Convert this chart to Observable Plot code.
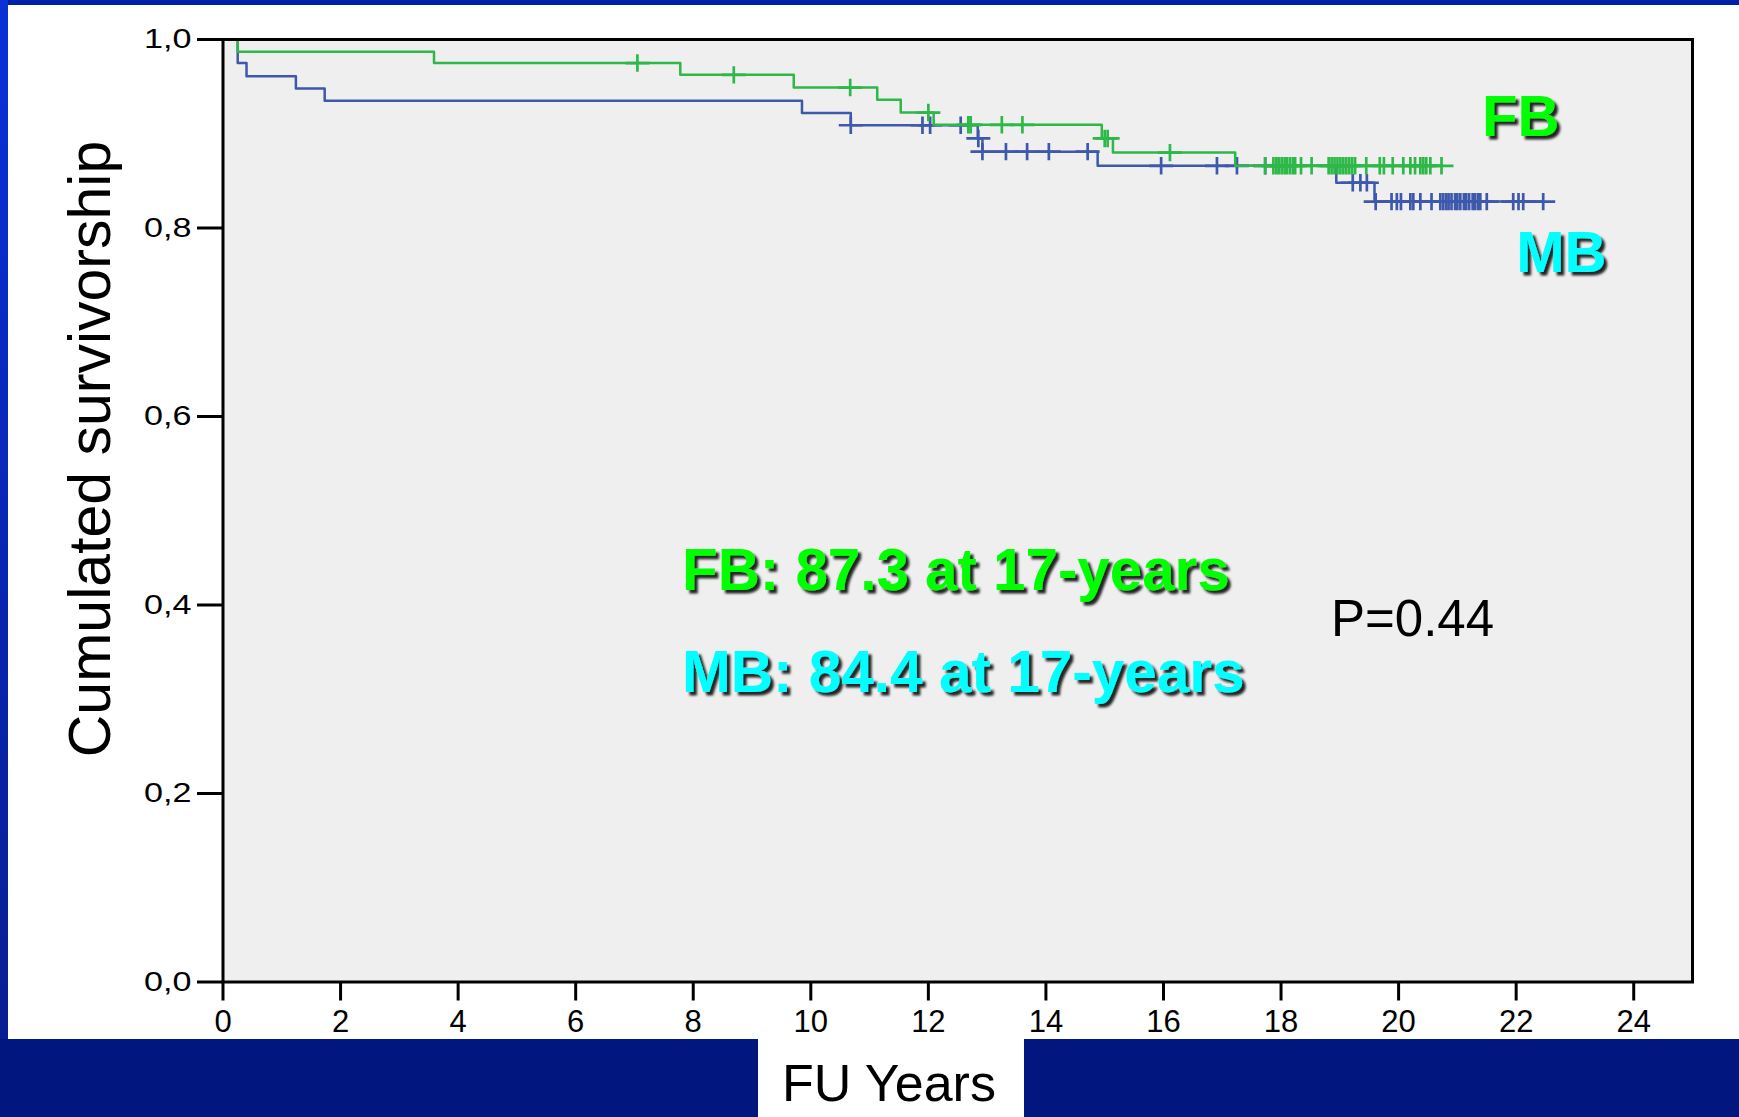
<!DOCTYPE html>
<html><head><meta charset="utf-8">
<script src="https://cdn.jsdelivr.net/npm/d3@7"></script>
<script src="https://cdn.jsdelivr.net/npm/@observablehq/plot@0.6"></script>
<style>
html,body{margin:0;padding:0;background:#fff;}
#page{position:relative;width:1739px;height:1117px;overflow:hidden;background:#fff;font-family:"Liberation Sans",Arial,sans-serif;}
.deco{position:absolute;}
#chart{position:absolute;left:0;top:0;}
</style></head><body>
<div id="page">
 <div class="deco" style="left:0;top:0;width:1739px;height:5px;background:#0020a8"></div>
 <div class="deco" style="left:0;top:0;width:8px;height:1117px;background:linear-gradient(#0a30d8,#081c8c)"></div>
 <div class="deco" style="left:0;top:1039px;width:1739px;height:78px;background:#021680"></div>
 <div class="deco" style="left:758px;top:1039px;width:266px;height:78px;background:#fff"></div>
 <div id="chart"></div>
</div>
<script>
// ---- Data ----
// MB group (blue): event times (years) and survival after each event
const mbEventTimes = [0.25, 0.40, 1.24, 1.73, 9.85, 10.68, 12.84, 12.92, 14.88, 18.94, 19.59];
const mbEventSurv  = [0.975, 0.961, 0.948, 0.935, 0.922, 0.909, 0.895, 0.881, 0.866, 0.848, 0.828];
// MB censored times
const mbCensorTimes = [10.68, 11.90, 12.03, 12.55, 12.85, 12.92, 13.32, 13.68, 14.05, 14.71,
  15.96, 16.91, 17.25, 17.73, 19.22, 19.35, 19.46, 19.61, 19.88, 19.97, 20.04, 20.20, 20.25,
  20.37, 20.56, 20.71, 20.76, 20.81, 20.85, 20.90, 20.96, 21.00, 21.05, 21.11, 21.15, 21.20,
  21.26, 21.30, 21.35, 21.39, 21.50, 21.95, 22.04, 22.12, 22.46];

// FB group (green)
const fbEventTimes = [0.25, 3.59, 7.78, 9.71, 11.13, 11.53, 12.09, 14.95, 15.14, 17.22];
const fbEventSurv  = [0.987, 0.975, 0.9625, 0.949, 0.936, 0.9225, 0.9095, 0.895, 0.880, 0.866];
const fbCensorTimes = [7.05, 8.69, 10.67, 12.00, 12.68, 12.72, 13.25, 13.60, 15.00, 15.05, 16.11,
  17.73, 17.87, 17.92, 17.96, 18.01, 18.06, 18.10, 18.15, 18.20, 18.24, 18.34, 18.52, 18.81,
  18.86, 18.91, 18.96, 19.01, 19.06, 19.11, 19.16, 19.21, 19.26, 19.45, 19.68, 19.75, 19.90,
  20.08, 20.20, 20.28, 20.37, 20.42, 20.47, 20.54, 20.73];

// Axis ticks
const xTicks = [0, 2, 4, 6, 8, 10, 12, 14, 16, 18, 20, 22, 24];
const yTicks = [0, 0.2, 0.4, 0.6, 0.8, 1.0];
const yTickLabels = ["0,0", "0,2", "0,4", "0,6", "0,8", "1,0"];

// Annotations
const noteTexts  = ["FB", "MB", "FB: 87.3 at 17-years", "MB: 84.4 at 17-years"];
const noteX      = [21.42, 22.0, 7.81, 7.81];
const noteY      = [0.898, 0.753, 0.4154, 0.3072];
const noteColors = ["#00ff00", "#00ffff", "#00ff00", "#00ffff"];
const noteSizes  = [58, 58, 58.3, 58.5];
const pText = ["P=0.44"];
const pX = [18.85];
const pY = [0.3676];

const MB_COLOR = "#3e58ac";
const FB_COLOR = "#2eb848";

// ---- Build tables ----
function survAt(times, surv, t) {
  let s = 1;
  for (let i = 0; i < times.length; i++) if (times[i] <= t + 1e-9) s = surv[i];
  return s;
}
function steps(times, surv, censors) {
  const pts = [{t: 0, s: 1}];
  times.forEach((t, i) => pts.push({t, s: surv[i]}));
  const end = Math.max(...censors, ...times);
  pts.push({t: end, s: survAt(times, surv, end)});
  return pts;
}
const mbSteps = steps(mbEventTimes, mbEventSurv, mbCensorTimes);
const fbSteps = steps(fbEventTimes, fbEventSurv, fbCensorTimes);
const mbCensors = mbCensorTimes.map(t => ({t, s: survAt(mbEventTimes, mbEventSurv, t)}));
const fbCensors = fbCensorTimes.map(t => ({t, s: survAt(fbEventTimes, fbEventSurv, t)}));
const notes = noteTexts.map((text, i) => ({text, x: noteX[i], y: noteY[i], color: noteColors[i], size: noteSizes[i]}));
const pNotes = pText.map((text, i) => ({text, x: pX[i], y: pY[i]}));

const censorSymbol = {
  draw(ctx) {
    ctx.moveTo(-12, 0); ctx.lineTo(12, 0);
    ctx.moveTo(0, -8.7); ctx.lineTo(0, 8.7);
  }
};

const FONT = "Liberation Sans, Arial, sans-serif";

const svg = Plot.plot({
  width: 1739, height: 1117,
  marginLeft: 222.5, marginRight: 47, marginTop: 39, marginBottom: 135.5,
  style: {background: "transparent", fontFamily: FONT, overflow: "visible", maxWidth: "none", color: "black"},
  x: {domain: [0, 25]},
  y: {domain: [0, 1]},
  marks: [
    Plot.frame({fill: "#efefef", stroke: "none"}),
    Plot.line(mbSteps, {x: "t", y: "s", curve: "step-after", stroke: MB_COLOR, strokeWidth: 2.5}),
    Plot.dot(mbCensors, {x: "t", y: "s", symbol: censorSymbol, stroke: MB_COLOR, fill: "none", strokeWidth: 2.7}),
    Plot.line(fbSteps, {x: "t", y: "s", curve: "step-after", stroke: FB_COLOR, strokeWidth: 2.5}),
    Plot.dot(fbCensors, {x: "t", y: "s", symbol: censorSymbol, stroke: FB_COLOR, fill: "none", strokeWidth: 2.7}),
    Plot.frame({stroke: "black", strokeWidth: 3}),
    Plot.axisY({ticks: yTicks, tickFormat: d => yTickLabels[yTicks.indexOf(d)], tickSize: 25.5, tickPadding: 6,
      fontSize: 28, strokeWidth: 3, stroke: "black", fill: "black", label: null}),
    Plot.axisX({ticks: xTicks, tickFormat: d => String(d), tickSize: 19, tickPadding: 9,
      fontSize: 31, strokeWidth: 3, stroke: "black", fill: "black", label: null}),
    Plot.text(notes, {x: "x", y: "y", text: "text", fill: d => d.color,
      fontSize: d => d.size, fontWeight: "bold", textAnchor: "start", lineAnchor: "bottom", fontFamily: FONT}),
    Plot.text(pNotes, {x: "x", y: "y", text: "text", fill: "black", fontSize: 51,
      textAnchor: "start", lineAnchor: "bottom", fontFamily: FONT})
  ]
});

const s = d3.select(svg);
const defs = s.insert("defs", ":first-child");
const f = defs.append("filter").attr("id", "txtshadow")
  .attr("x", "-10%").attr("y", "-30%").attr("width", "130%").attr("height", "170%");
f.append("feDropShadow").attr("dx", 3.5).attr("dy", 3.5).attr("stdDeviation", 1.3)
  .attr("flood-color", "#000").attr("flood-opacity", 0.85);
s.selectAll("text").filter(function() {
  return noteTexts.includes(this.textContent);
}).attr("filter", "url(#txtshadow)");
// widen the y tick labels as in the reference
s.selectAll('g[aria-label="y-axis tick label"] text').each(function() {
  const tr = this.getAttribute("transform");
  if (tr && tr.includes("translate")) this.setAttribute("transform", tr + " scale(1.22,1)");
});
s.append("text")
  .attr("transform", "translate(110,449) rotate(-90)")
  .attr("text-anchor", "middle")
  .attr("font-family", FONT)
  .attr("font-size", 59)
  .attr("fill", "black")
  .text("Cumulated survivorship");
s.append("text")
  .attr("x", 889).attr("y", 1101)
  .attr("text-anchor", "middle")
  .attr("font-family", FONT)
  .attr("font-size", 52)
  .attr("fill", "black")
  .text("FU Years");

document.getElementById("chart").appendChild(svg);
</script>
</body></html>
